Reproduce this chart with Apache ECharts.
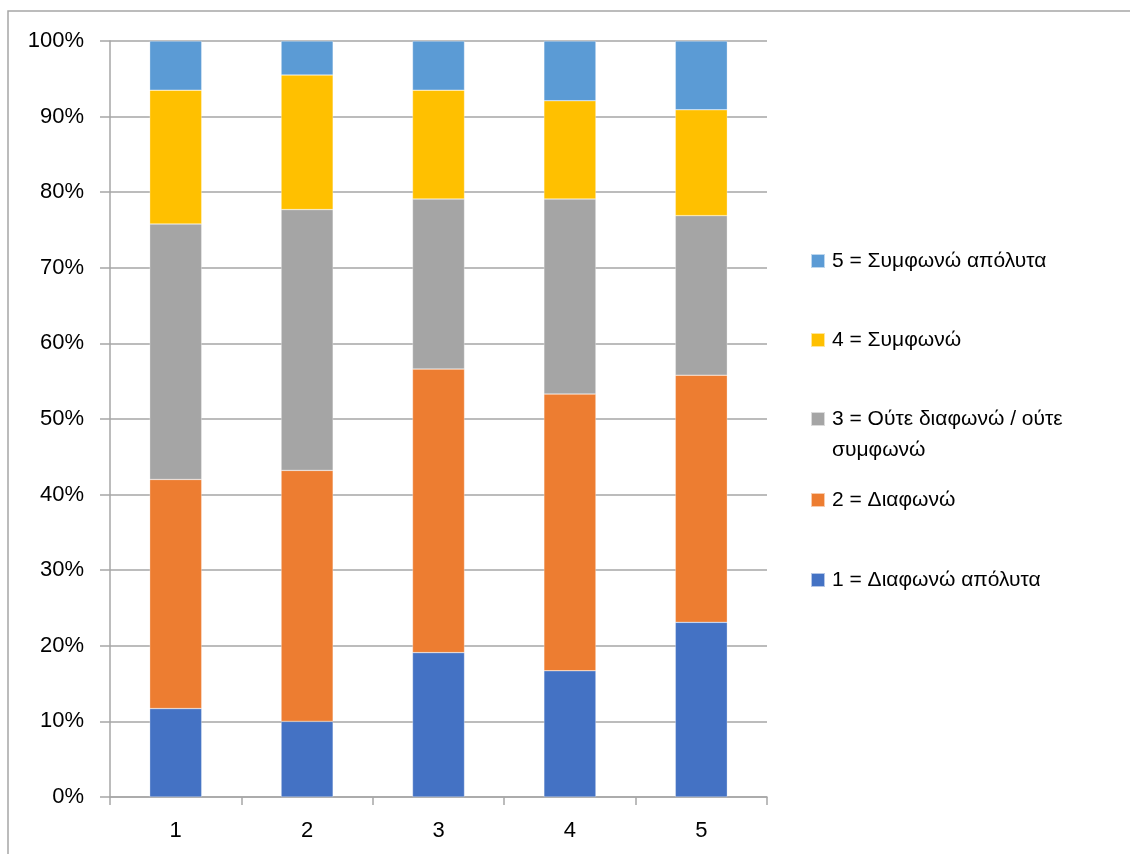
<!DOCTYPE html>
<html>
<head>
<meta charset="utf-8">
<script src="https://cdn.jsdelivr.net/npm/echarts@6/dist/echarts.min.js"></script>
<style>
html,body{margin:0;padding:0;background:#fff;}
#chart{width:1130px;height:854px;}
</style>
</head>
<body>
<div id="chart"></div>
<script>
const categories = ['1', '2', '3', '4', '5'];
const seriesNames = ['1 = Διαφωνώ απόλυτα', '2 = Διαφωνώ', '3 = Ούτε διαφωνώ / ούτε συμφωνώ', '4 = Συμφωνώ', '5 = Συμφωνώ απόλυτα'];
const s1 = [11.7, 10.0, 19.1, 16.7, 23.1];
const s2 = [30.3, 33.2, 37.5, 36.6, 32.7];
const s3 = [33.8, 34.5, 22.5, 25.8, 21.1];
const s4 = [17.7, 17.8, 14.4, 13.0, 14.0];
const s5 = [6.5, 4.5, 6.5, 7.9, 9.1];
const colors = ['#4472C4', '#ED7D31', '#A5A5A5', '#FFC000', '#5B9BD5'];

const values = [s1, s2, s3, s4, s5];
const FONT = 'Liberation Sans';

const series = values.map((v, i) => ({
  name: seriesNames[i],
  type: 'bar',
  stack: 'total',
  barWidth: 52,
  data: v,
  itemStyle: { color: colors[i], borderColor: 'rgba(255,255,255,0.6)', borderWidth: 0.5 },
  emphasis: { disabled: true }
}));

// legend positions (center y of first text line), top to bottom: 5,4,3,2,1
const legendCenters = [261, 340, 419, 500, 580];
const legendOrder = [4, 3, 2, 1, 0];
const lh = 31;
const legends = legendOrder.map((si, k) => {
  const wrapped = si === 2;
  return {
    orient: 'vertical',
    left: 810,
    top: wrapped ? legendCenters[k] - lh * 1.5 : legendCenters[k] - lh / 2,
    padding: 0,
    itemWidth: 14,
    itemHeight: 14,
    itemGap: 0,
    icon: 'rect',
    data: [seriesNames[si]],
    selectedMode: false,
    formatter: wrapped ? function () { return ' \n3 = Ούτε διαφωνώ / ούτε\nσυμφωνώ'; } : '{name}',
    textStyle: { fontFamily: FONT, fontSize: 21, color: '#000', lineHeight: lh, padding: [0, 0, 0, 2] }
  };
});

const chart = echarts.init(document.getElementById('chart'));
chart.setOption({
  animation: false,
  backgroundColor: '#fff',
  color: colors,
  graphic: [{
    type: 'rect',
    shape: { x: 8, y: 11, width: 1200, height: 1000 },
    style: { fill: 'none', stroke: '#A6A6A6', lineWidth: 1.5 },
    silent: true,
    z: -10
  }],
  grid: { left: 110, right: 363, top: 41, bottom: 57, containLabel: false },
  legend: legends,
  xAxis: {
    type: 'category',
    data: categories,
    axisLine: { lineStyle: { color: '#A6A6A6', width: 1.5 } },
    axisTick: { show: true, length: 8, lineStyle: { color: '#A6A6A6', width: 1.5 }, alignWithLabel: false },
    axisLabel: { fontFamily: FONT, fontSize: 22, color: '#000', margin: 23 },
    splitLine: { show: false }
  },
  yAxis: {
    type: 'value',
    min: 0,
    max: 100,
    interval: 10,
    axisLine: { show: true, lineStyle: { color: '#A6A6A6', width: 1.5 } },
    axisTick: { show: true, length: 10, lineStyle: { color: '#A6A6A6', width: 1.5 } },
    axisLabel: { fontFamily: FONT, fontSize: 22, color: '#000', margin: 26, formatter: '{value}%' },
    splitLine: { show: true, lineStyle: { color: '#A6A6A6', width: 1.5 } }
  },
  series: series
});
</script>
</body>
</html>
